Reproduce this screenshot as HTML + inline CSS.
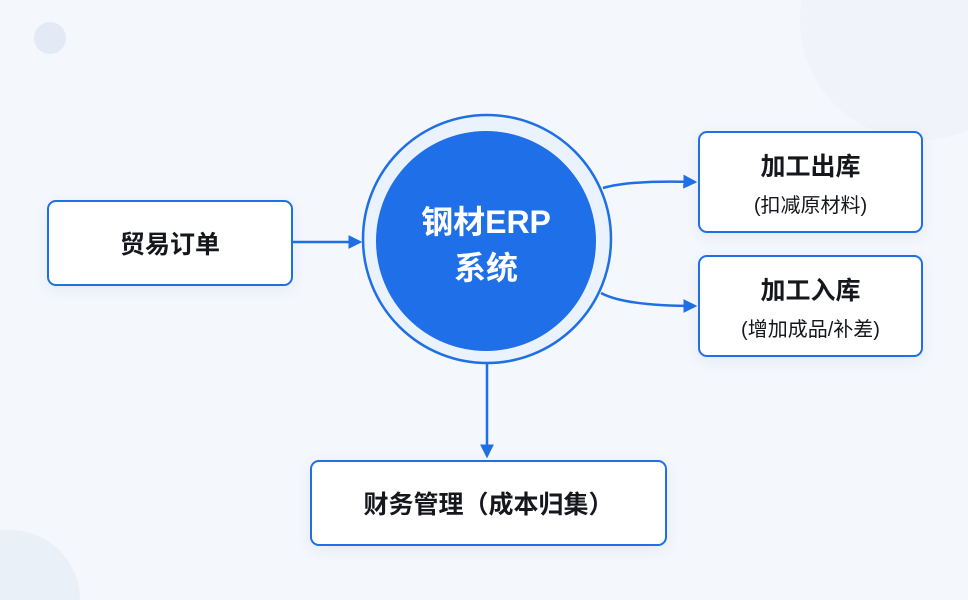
<!DOCTYPE html>
<html><head><meta charset="utf-8"><style>
html,body{margin:0;padding:0;width:968px;height:600px;overflow:hidden}
body{background:#f4f7fc;position:relative;font-family:"Liberation Sans","Noto Sans CJK SC",sans-serif}
svg{display:block}
.box{position:absolute;background:#fff;border:2px solid #1f6fe5;border-radius:9px;box-sizing:border-box;display:flex;flex-direction:column;align-items:center;justify-content:center;color:#15171c;font-weight:bold;box-shadow:0 4px 14px rgba(40,90,180,0.08)}
.t{font-size:25px}
.s{font-size:20px;font-weight:normal;margin-top:6px}
</style></head><body>
<svg width="968" height="600" style="position:absolute;left:0;top:0">
<defs>
<marker id="b" viewBox="0 0 12 12" markerWidth="14" markerHeight="14" refX="10" refY="6" orient="auto" markerUnits="userSpaceOnUse"><path d="M0,0 L12,6 L0,12 z" fill="#1f6fe5"/></marker></defs>
<circle cx="50" cy="38" r="16" fill="#e3eaf6"/>
<circle cx="920" cy="20" r="120" fill="#f0f3f9"/>
<circle cx="10" cy="600" r="70" fill="#eaf0f8"/>
<circle cx="487" cy="239" r="124" fill="#eaf2fd" stroke="#1f6fe5" stroke-width="2.5"/>
<circle cx="486" cy="241" r="110" fill="#1f6fe9"/>
<line x1="293" y1="242" x2="360" y2="242" stroke="#1f6fe5" stroke-width="2.5" marker-end="url(#b)"/>
<path d="M603,188 Q630,180 695,182" fill="none" stroke="#1f6fe5" stroke-width="2.5" marker-end="url(#b)"/>
<path d="M601,293 Q625,306 695,306" fill="none" stroke="#1f6fe5" stroke-width="2.5" marker-end="url(#b)"/>
<line x1="487" y1="364" x2="487" y2="456" stroke="#1f6fe5" stroke-width="2.5" marker-end="url(#b)"/>
<text x="486" y="233" text-anchor="middle" fill="#fff" font-size="32" font-weight="bold" font-family="Liberation Sans, Noto Sans CJK SC, sans-serif">钢材ERP</text>
<text x="486" y="279" text-anchor="middle" fill="#fff" font-size="32" font-weight="bold" font-family="Liberation Sans, Noto Sans CJK SC, sans-serif">系统</text>
</svg>
<div class="box" style="left:47px;top:200px;width:246px;height:86px"><div class="t">贸易订单</div></div>
<div class="box" style="left:698px;top:131px;width:225px;height:102px"><div class="t">加工出库</div><div class="s">(扣减原材料)</div></div>
<div class="box" style="left:698px;top:255px;width:225px;height:102px"><div class="t">加工入库</div><div class="s">(增加成品/补差)</div></div>
<div class="box" style="left:310px;top:460px;width:357px;height:86px"><div class="t">财务管理（成本归集）</div></div>
</body></html>
